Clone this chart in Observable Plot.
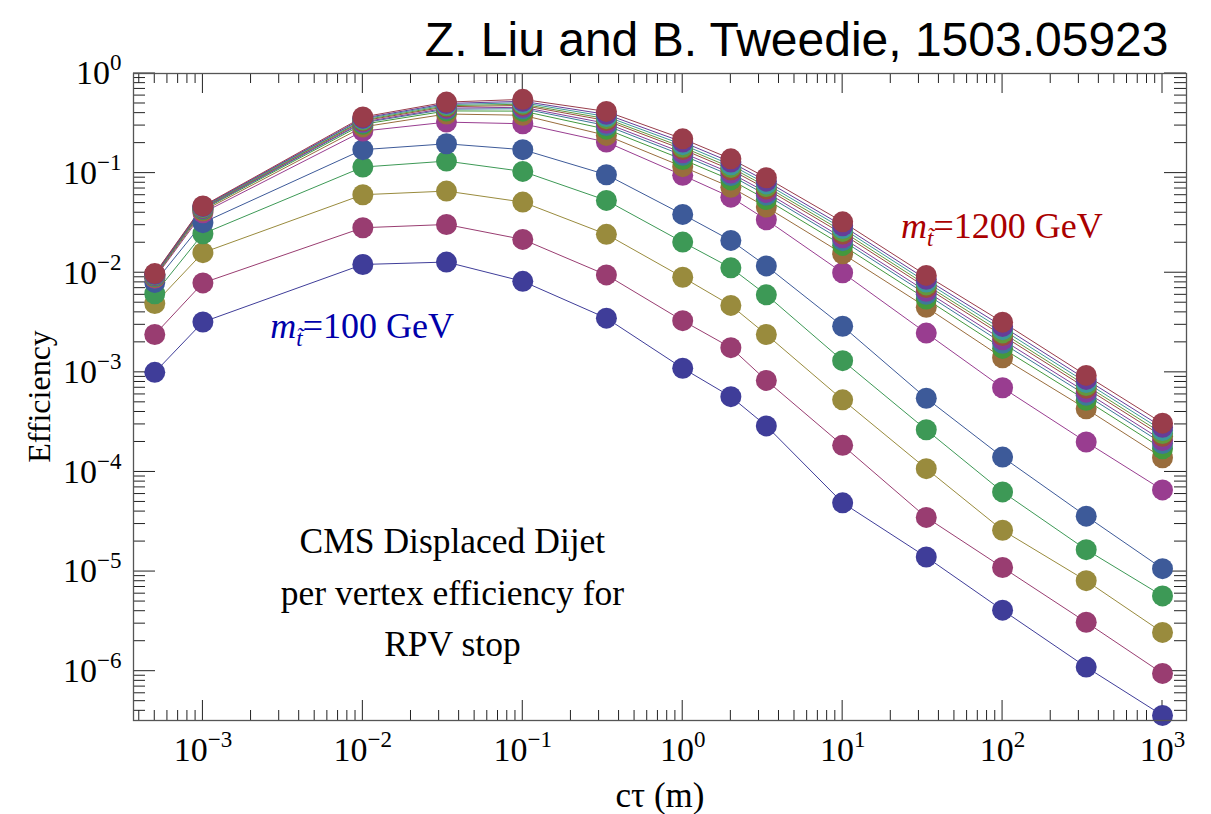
<!DOCTYPE html>
<html><head><meta charset="utf-8">
<script src="https://cdn.jsdelivr.net/npm/d3@7"></script>
<script src="https://cdn.jsdelivr.net/npm/@observablehq/plot@0.6"></script>
<style>body{margin:0;background:#fff;}</style>
</head><body><div id="chart"></div>
<script>
// c*tau values (m)
const ctau = [5e-4, 1e-3, 1e-2, 1/30, 0.1, 1/3, 1, 2, 10/3, 10, 100/3, 100, 1000/3, 1000];
// per-vertex efficiency, one array per stop-mass series (lightest first)
const eff1  = [1.0e-3, 3.2e-3, 0.0121, 0.0128, 0.0082, 3.5e-3, 1.1e-3, 5.7e-4, 2.9e-4, 4.9e-5, 1.4e-5, 4.1e-6, 1.1e-6, 3.6e-7];
const eff2  = [2.4e-3, 7.9e-3, 0.0283, 0.0305, 0.0216, 9.5e-3, 3.3e-3, 1.77e-3, 8.3e-4, 1.85e-4, 3.5e-5, 1.1e-5, 3.1e-6, 9.5e-7];
const eff3  = [4.9e-3, 0.0159, 0.0607, 0.066, 0.0512, 0.0243, 9.0e-3, 4.7e-3, 2.4e-3, 5.3e-4, 1.08e-4, 2.6e-5, 8.1e-6, 2.45e-6];
const eff4  = [6.15e-3, 0.0246, 0.115, 0.132, 0.104, 0.0532, 0.0203, 0.0112, 6.0e-3, 1.31e-3, 2.65e-4, 6.3e-5, 1.66e-5, 5.7e-6];
const eff5  = [8.0e-3, 0.0318, 0.172, 0.197, 0.172, 0.0964, 0.0385, 0.0211, 0.0117, 2.9e-3, 5.5e-4, 1.41e-4, 3.6e-5, 1.07e-5];
const eff6  = [8.8e-3, 0.040, 0.264, 0.325, 0.313, 0.205, 0.095, 0.0574, 0.034, 0.0100, 2.48e-3, 7.0e-4, 2.0e-4, 6.6e-5];
const eff7  = [8.94e-3, 0.0417, 0.291, 0.392, 0.381, 0.239, 0.116, 0.0721, 0.0456, 0.0155, 4.5e-3, 1.4e-3, 4.3e-4, 1.39e-4];
const eff8  = [9.14e-3, 0.0430, 0.309, 0.421, 0.419, 0.276, 0.137, 0.0855, 0.0544, 0.0188, 5.44e-3, 1.74e-3, 5.25e-4, 1.71e-4];
const eff9  = [9.27e-3, 0.0437, 0.320, 0.438, 0.443, 0.300, 0.151, 0.0944, 0.0602, 0.0210, 6.08e-3, 1.96e-3, 5.9e-4, 1.93e-4];
const eff10 = [9.36e-3, 0.0442, 0.326, 0.449, 0.458, 0.316, 0.160, 0.100, 0.0640, 0.0224, 6.50e-3, 2.12e-3, 6.32e-4, 2.07e-4];
const eff11 = [9.47e-3, 0.0448, 0.335, 0.464, 0.478, 0.337, 0.173, 0.108, 0.0694, 0.0245, 7.11e-3, 2.34e-3, 6.94e-4, 2.28e-4];
const eff12 = [9.54e-3, 0.0452, 0.341, 0.475, 0.492, 0.352, 0.182, 0.114, 0.0734, 0.0260, 7.54e-3, 2.49e-3, 7.37e-4, 2.43e-4];
const eff13 = [9.61e-3, 0.0457, 0.349, 0.487, 0.509, 0.370, 0.193, 0.121, 0.0779, 0.0278, 8.06e-3, 2.68e-3, 7.91e-4, 2.61e-4];
const eff14 = [9.66e-3, 0.0461, 0.356, 0.500, 0.526, 0.389, 0.205, 0.129, 0.0830, 0.0296, 8.61e-3, 2.89e-3, 8.49e-4, 2.81e-4];
const eff15 = [9.8e-3, 0.0468, 0.366, 0.516, 0.550, 0.416, 0.221, 0.139, 0.0899, 0.0324, 9.40e-3, 3.19e-3, 9.31e-4, 3.09e-4];
const seriesList = [eff1, eff2, eff3, eff4, eff5, eff6, eff7, eff8, eff9, eff10, eff11, eff12, eff13, eff14, eff15];

const xTicks = [1e-3, 1e-2, 1e-1, 1e0, 1e1, 1e2, 1e3];
const yTicks = [1e0, 1e-1, 1e-2, 1e-3, 1e-4, 1e-5, 1e-6];
const titleText = "Z. Liu and B. Tweedie, 1503.05923";
const xLabel = "cτ (m)";
const yLabel = "Efficiency";
const noteText = "CMS Displaced Dijet\nper vertex efficiency for\nRPV stop";
const noteAt = {x: 0.0363, y: 6.8e-6};
const lowLabel = {x: 0.0099, y: 2.9e-3, text: "m_t=100 GeV"};
const highLabel = {x: 99, y: 0.0292, text: "m_t=1200 GeV"};

// styles
const palette = ["#3F3D99","#993D71","#998B3D","#3D9956","#3D5A99","#993D90","#996D3D","#43993D",
                 "#3D7999","#843D99","#994E3D","#62993D","#3D9799","#653D99","#993D4B"];

const rows = seriesList.flatMap((vals, i) => vals.map((v, j) => ({s: i, ctau: ctau[j], eff: v})));

const W = 1211, H = 814, mL = 133, mR = 25, mT = 73, mB = 94;
const serif = "'Liberation Serif', 'Times New Roman', serif";
const expFmt = d => "10^" + Math.round(Math.log10(d));

const plot = Plot.plot({
  width: W, height: H,
  marginLeft: mL, marginRight: mR, marginTop: mT, marginBottom: mB,
  x: {type: "log", domain: [10 ** -3.434, 10 ** 3.15]},
  y: {type: "log", domain: [10 ** -6.495, 1]},
  color: {type: "ordinal", domain: d3.range(15), range: palette},
  style: {fontFamily: serif, fontSize: "34px", background: "white", color: "black"},
  marks: [
    Plot.line(rows, {x: "ctau", y: "eff", z: "s", stroke: "s", strokeWidth: 1}),
    Plot.dot(rows, {x: "ctau", y: "eff", fill: "s", r: 10.5}),
    Plot.frame({stroke: "#555", strokeWidth: 1.3}),
    Plot.axisX(xTicks, {anchor: "bottom", tickSize: 0, tickPadding: 16, tickFormat: expFmt, label: null, fontSize: 34}),
    Plot.axisY(yTicks, {anchor: "left", tickSize: 0, tickPadding: 12, tickFormat: expFmt, label: null, fontSize: 34}),
    Plot.text([titleText], {frameAnchor: "top-right", dx: -18, dy: -18, lineAnchor: "bottom", fontSize: 48,
      fontFamily: "'Liberation Sans', Arial, sans-serif", textAnchor: "end"}),
    Plot.text([xLabel], {frameAnchor: "bottom", dy: 86, lineAnchor: "bottom", fontSize: 35}),
    Plot.text([noteText], {x: noteAt.x, y: noteAt.y, fontSize: 35.5, lineHeight: 1.45, lineAnchor: "middle"}),
    Plot.text([lowLabel], {x: "x", y: "y", text: "text", fontSize: 36, fill: "#0000AA", lineAnchor: "middle"}),
    Plot.text([highLabel], {x: "x", y: "y", text: "text", fontSize: 36, fill: "#AA0000", lineAnchor: "middle"})
  ]
});

// superscript tick labels and subscripted mass labels
d3.select(plot).selectAll("text").each(function () {
  const t = this.textContent;
  const m = /^10\^(-?\d+)$/.exec(t);
  const el = d3.select(this);
  if (m) {
    el.text("");
    el.append("tspan").text("10");
    el.append("tspan").attr("dy", -14).attr("font-size", 23).text(m[1].replace("-", "\u2212"));
  } else if (/^m_t=/.test(t)) {
    const rest = t.replace(/^m_t/, "");
    el.text("");
    el.append("tspan").attr("font-style", "italic").text("m");
    el.append("tspan").attr("font-style", "italic").attr("font-size", 23).attr("dy", 8).text("t\u0303");
    el.append("tspan").attr("dy", -8).text(rest);
  }
});

const X0 = mL, X1 = W - mR, Y0 = mT, Y1 = H - mB;

// y-axis title
d3.select(plot).append("text")
  .attr("transform", `translate(40,${(Y0 + Y1) / 2}) rotate(-90)`)
  .attr("text-anchor", "middle").attr("dy", "0.32em")
  .attr("font-size", 32).attr("fill", "black").text(yLabel);

// inward frame ticks on all four sides, from the plot's own scales
const sx = plot.scale("x"), sy = plot.scale("y");
const tg = d3.select(plot).insert("g", "g").attr("stroke", "#222").attr("stroke-width", 1);
for (let d = -7; d <= 3; d++) for (let k = 1; k <= 9; k++) {
  const v = k * 10 ** d;
  const px = sx.apply(v);
  if (px > X0 + 0.5 && px < X1 - 0.5) {
    const L = k === 1 ? 20 : 10;
    tg.append("line").attr("x1", px).attr("x2", px).attr("y1", Y1).attr("y2", Y1 - L);
    tg.append("line").attr("x1", px).attr("x2", px).attr("y1", Y0).attr("y2", Y0 + L);
  }
  const py = sy.apply(v);
  if (v <= 1 && py > Y0 - 0.5 && py < Y1 - 0.5) {
    const L = k === 1 ? 22 : 12;
    tg.append("line").attr("x1", X0).attr("x2", X0 + L).attr("y1", py).attr("y2", py);
    tg.append("line").attr("x1", X1).attr("x2", X1 - L).attr("y1", py).attr("y2", py);
  }
}

document.getElementById("chart").appendChild(plot);
</script>
</body></html>
